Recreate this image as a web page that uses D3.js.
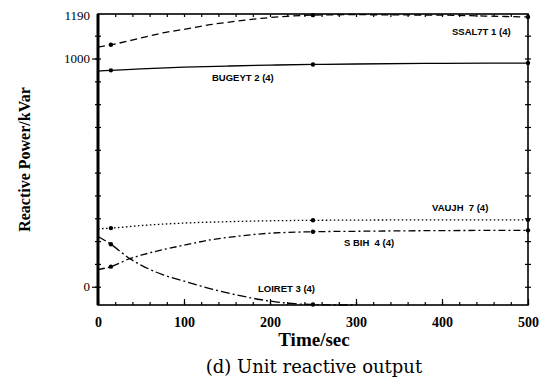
<!DOCTYPE html>
<html>
<head>
<meta charset="utf-8">
<script src="https://cdn.jsdelivr.net/npm/d3@7"></script>
<style>
	body { margin: 0; background: #fff; }
	svg { display: block; }
	.lbl { font-family: 'Liberation Sans', Arial, sans-serif; font-size: 9.5px; font-weight: bold; }
	.tick text { font-family: 'Liberation Serif', serif; }
</style>
</head>
<body>
<script>
// time points (sec) and reactive power (kVar)
const ssal7tT = [0, 15, 50, 75, 100, 130, 160, 190, 220, 250, 300, 350, 400, 450, 500];
const ssal7tQ = [1050, 1060, 1090, 1112, 1128, 1148, 1163, 1176, 1185, 1190, 1192, 1191, 1190, 1186, 1182];

const bugeytT = [0, 15, 50, 100, 150, 200, 250, 300, 400, 500];
const bugeytQ = [945, 948, 955, 962, 967, 971, 974, 976, 979, 980];

const vaujhT = [0, 15, 50, 100, 150, 200, 250, 300, 400, 500];
const vaujhQ = [254, 257, 268, 279, 285, 289, 291, 292, 293, 293];

const sbihT = [0, 15, 37, 50, 75, 100, 130, 160, 190, 220, 250, 300, 400, 500];
const sbihQ = [75, 88, 123, 138, 162, 182, 205, 220, 232, 238, 241, 243, 246, 247];

const loiretT = [0, 15, 37, 50, 75, 100, 130, 160, 190, 220, 250, 280, 300];
const loiretQ = [220, 186, 123, 95, 53, 25, -8, -35, -57, -72, -78, -80, -80];

const markerT = [15, 250, 500];

const xTicks = [0, 100, 200, 300, 400, 500];
const yTicks = [0, 1000, 1190];

const series = [
	{ name: 'SSAL7T 1 (4)', t: ssal7tT, q: ssal7tQ, dash: '7,4', lx: 452, ly: 35 },
	{ name: 'BUGEYT 2 (4)', t: bugeytT, q: bugeytQ, dash: null, lx: 212, ly: 81 },
	{ name: 'VAUJH  7 (4)', t: vaujhT, q: vaujhQ, dash: '1.5,2.5', lx: 432, ly: 211 },
	{ name: 'S BIH  4 (4)', t: sbihT, q: sbihQ, dash: '7,3,2,3', lx: 344, ly: 246 },
	{ name: 'LOIRET 3 (4)', t: loiretT, q: loiretQ, dash: '9,3,2,3', lx: 258, ly: 292 }
];

const W = 553, H = 387;
const margin = { top: 14, right: 25, bottom: 82, left: 98 };
const width = W - margin.left - margin.right;
const height = H - margin.top - margin.bottom;

const x = d3.scaleLinear().domain([0, 500]).range([0, width]);
const y = d3.scaleLinear().domain([-80, 1195]).range([height, 0]);

const svg = d3.select('body').append('svg')
	.attr('width', W)
	.attr('height', H);
const g = svg.append('g').attr('transform', 'translate(' + margin.left + ',' + margin.top + ')');

// minor ticks on all four sides
const minorX = d3.range(0, 501, 20);
const minorY = d3.range(0, 1191, 100);

g.append('g').attr('transform', 'translate(0,' + height + ')')
	.call(d3.axisBottom(x).tickValues(minorX).tickSize(-3).tickFormat(''));
g.append('g')
	.call(d3.axisTop(x).tickValues(minorX).tickSize(-3).tickFormat(''));
g.append('g')
	.call(d3.axisLeft(y).tickValues(minorY).tickSize(3).tickFormat(''));
g.append('g')
	.call(d3.axisLeft(y).tickValues(minorY).tickSize(-3).tickFormat(''));
g.append('g').attr('transform', 'translate(' + width + ',0)')
	.call(d3.axisRight(y).tickValues(minorY).tickSize(3).tickFormat(''));
g.append('g').attr('transform', 'translate(' + width + ',0)')
	.call(d3.axisRight(y).tickValues(minorY).tickSize(-3).tickFormat(''));

// labelled axes
const xAxis = g.append('g').attr('transform', 'translate(0,' + height + ')')
	.call(d3.axisBottom(x).tickValues(xTicks).tickSize(-6).tickPadding(12).tickFormat(d3.format('d')));
xAxis.selectAll('text').style('font-size', '14px').style('font-weight', 'bold');

const yAxis = g.append('g')
	.call(d3.axisLeft(y).tickValues(yTicks).tickSize(6).tickPadding(2).tickFormat(d3.format('d')));
yAxis.selectAll('text').style('font-size', '13px');
yAxis.selectAll('.tick').filter(d => d === 1190).select('line').remove();

g.selectAll('.domain').remove();
g.selectAll('.tick line').attr('stroke', '#000').attr('stroke-width', 1.2);

// frame
g.append('rect')
	.attr('width', width).attr('height', height)
	.attr('fill', 'none').attr('stroke', '#000').attr('stroke-width', 1.6);
g.append('line')
	.attr('x1', 0).attr('x2', 0).attr('y1', 0).attr('y2', height)
	.attr('stroke', '#000').attr('stroke-width', 3);

const line = d3.line().x(d => x(d[0])).y(d => y(d[1])).curve(d3.curveMonotoneX);

series.forEach(s => {
	const pts = s.t.map((t, i) => [t, s.q[i]]);
	g.append('path')
		.datum(pts)
		.attr('fill', 'none')
		.attr('stroke', '#000')
		.attr('stroke-width', 1.3)
		.attr('stroke-dasharray', s.dash)
		.attr('d', line);

	// markers where the series is defined at the marker times
	const interp = d3.scaleLinear().domain(s.t).range(s.q);
	g.selectAll(null)
		.data(markerT.filter(t => t <= d3.max(s.t)))
		.enter().append('circle')
		.attr('cx', t => x(t))
		.attr('cy', t => y(interp(t)))
		.attr('r', 2.2)
		.attr('fill', '#000');

	g.append('text')
		.attr('class', 'lbl')
		.attr('x', s.lx - margin.left)
		.attr('y', s.ly - margin.top)
		.attr('xml:space', 'preserve')
		.style('white-space', 'pre')
		.text(s.name);
});

// axis titles
svg.append('text')
	.attr('transform', 'translate(30,' + (margin.top + height / 2) + ') rotate(-90)')
	.attr('text-anchor', 'middle')
	.style('font-family', "'Liberation Serif', serif")
	.style('font-size', '16px')
	.style('font-weight', 'bold')
	.text('Reactive Power/kVar');

svg.append('text')
	.attr('x', 314).attr('y', 346)
	.attr('text-anchor', 'middle')
	.style('font-family', "'Liberation Serif', serif")
	.style('font-size', '19px')
	.style('font-weight', 'bold')
	.text('Time/sec');

svg.append('text')
	.attr('x', 314).attr('y', 373)
	.attr('text-anchor', 'middle')
	.style('font-family', "'DejaVu Serif', serif")
	.style('font-size', '18px')
	.text('(d) Unit reactive output');
</script>
</body>
</html>
